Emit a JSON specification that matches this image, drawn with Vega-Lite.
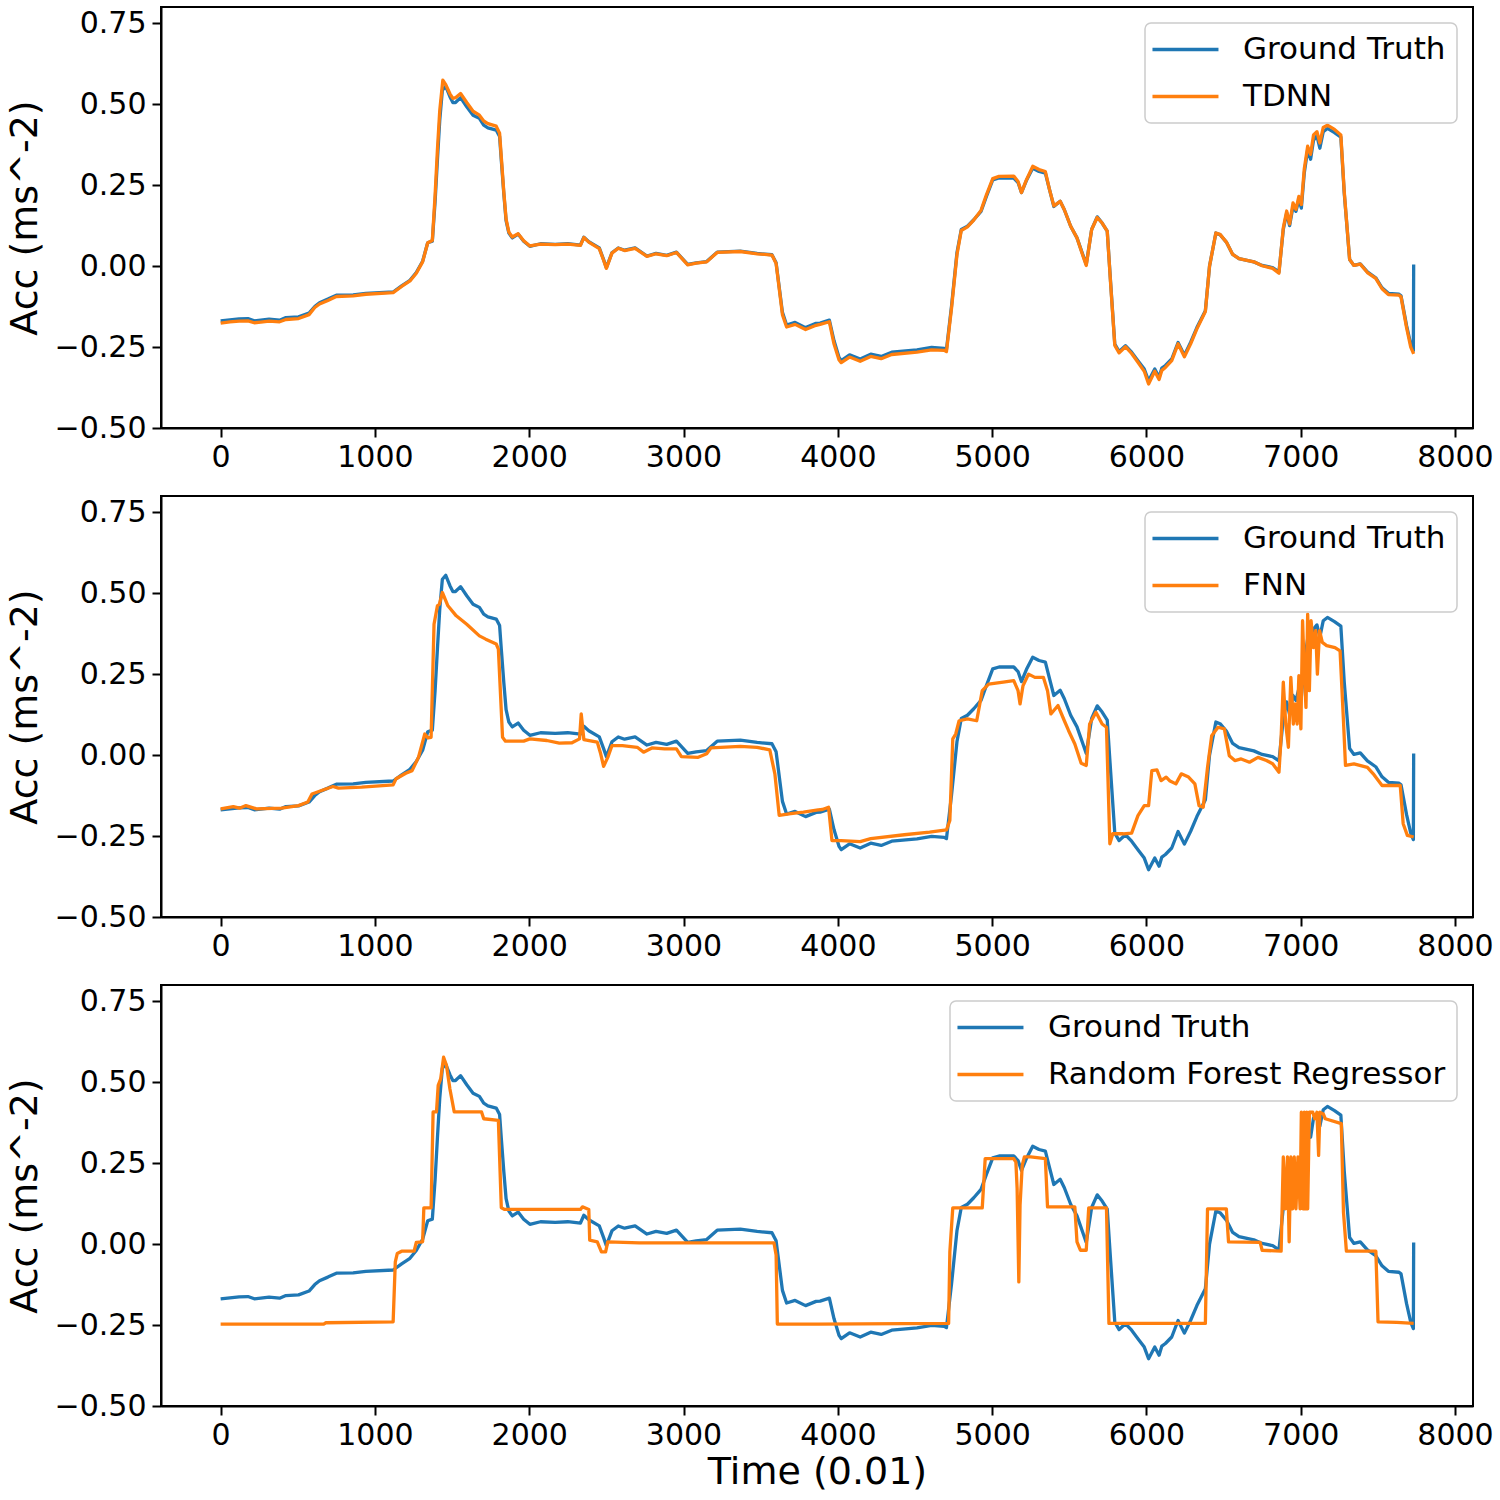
{
"$schema": "https://vega.github.io/schema/vega-lite/v6.json",
"padding": {"left": 5, "top": 6, "right": 5, "bottom": 5},
"background": "white",
"bounds": "flush",
"spacing": 68,
"config": {
  "font": "DejaVu Sans",
  "view": {"stroke": "black", "strokeWidth": 2},
  "line": {"strokeWidth": 3.3, "strokeJoin": "round"},
  "axis": {"grid": false, "domainColor": "black", "domainWidth": 2, "tickColor": "black", "tickWidth": 2, "tickSize": 9, "labelFont": "DejaVu Sans", "labelFontSize": 30, "labelColor": "black", "titleFont": "DejaVu Sans", "titleFontWeight": "normal", "titleColor": "black"},
  "legend": {"orient": "top-right", "offset": 16, "padding": 11, "fillColor": "rgba(255,255,255,0.85)", "strokeColor": "#cccccc", "strokeWidth": 1.5, "cornerRadius": 6, "symbolType": "M-1.73,0H4.27", "symbolSize": 484, "symbolStrokeWidth": 3.3, "labelFont": "DejaVu Sans", "labelFontSize": 31, "labelColor": "black", "labelOffset": 56, "rowPadding": 15, "labelLimit": 1000}
},
"resolve": {"scale": {"color": "independent"}, "legend": {"color": "independent"}},
"datasets": {
"gt": [{"t":0,"v":-0.169},{"t":60,"v":-0.166},{"t":120,"v":-0.163},{"t":177,"v":-0.162},{"t":218,"v":-0.169},{"t":260,"v":-0.167},{"t":314,"v":-0.164},{"t":382,"v":-0.167},{"t":423,"v":-0.159},{"t":505,"v":-0.157},{"t":573,"v":-0.145},{"t":610,"v":-0.125},{"t":641,"v":-0.113},{"t":695,"v":-0.102},{"t":750,"v":-0.09},{"t":859,"v":-0.089},{"t":941,"v":-0.084},{"t":1118,"v":-0.08},{"t":1173,"v":-0.061},{"t":1227,"v":-0.044},{"t":1268,"v":-0.02},{"t":1309,"v":0.015},{"t":1342,"v":0.072},{"t":1372,"v":0.077},{"t":1390,"v":0.2},{"t":1405,"v":0.328},{"t":1420,"v":0.45},{"t":1437,"v":0.543},{"t":1459,"v":0.555},{"t":1486,"v":0.523},{"t":1505,"v":0.505},{"t":1522,"v":0.505},{"t":1555,"v":0.52},{"t":1595,"v":0.492},{"t":1636,"v":0.466},{"t":1677,"v":0.456},{"t":1705,"v":0.435},{"t":1732,"v":0.427},{"t":1786,"v":0.42},{"t":1808,"v":0.4},{"t":1820,"v":0.32},{"t":1835,"v":0.225},{"t":1850,"v":0.14},{"t":1868,"v":0.102},{"t":1890,"v":0.087},{"t":1928,"v":0.099},{"t":1964,"v":0.077},{"t":2004,"v":0.061},{"t":2073,"v":0.069},{"t":2168,"v":0.067},{"t":2250,"v":0.069},{"t":2332,"v":0.065},{"t":2354,"v":0.089},{"t":2386,"v":0.075},{"t":2454,"v":0.056},{"t":2482,"v":0.02},{"t":2500,"v":-0.005},{"t":2536,"v":0.041},{"t":2577,"v":0.056},{"t":2618,"v":0.049},{"t":2686,"v":0.056},{"t":2763,"v":0.031},{"t":2822,"v":0.039},{"t":2891,"v":0.033},{"t":2954,"v":0.043},{"t":3027,"v":0.005},{"t":3082,"v":0.01},{"t":3150,"v":0.014},{"t":3218,"v":0.043},{"t":3368,"v":0.046},{"t":3477,"v":0.039},{"t":3573,"v":0.035},{"t":3600,"v":0.01},{"t":3641,"v":-0.143},{"t":3668,"v":-0.182},{"t":3723,"v":-0.174},{"t":3791,"v":-0.19},{"t":3859,"v":-0.177},{"t":3885,"v":-0.176},{"t":3945,"v":-0.167},{"t":3975,"v":-0.23},{"t":4008,"v":-0.282},{"t":4022,"v":-0.292},{"t":4076,"v":-0.274},{"t":4145,"v":-0.287},{"t":4213,"v":-0.272},{"t":4281,"v":-0.279},{"t":4349,"v":-0.266},{"t":4513,"v":-0.259},{"t":4608,"v":-0.251},{"t":4690,"v":-0.254},{"t":4704,"v":-0.258},{"t":4737,"v":-0.123},{"t":4772,"v":0.041},{"t":4800,"v":0.113},{"t":4840,"v":0.123},{"t":4881,"v":0.143},{"t":4928,"v":0.169},{"t":4963,"v":0.215},{"t":5004,"v":0.266},{"t":5045,"v":0.272},{"t":5140,"v":0.272},{"t":5168,"v":0.258},{"t":5190,"v":0.227},{"t":5222,"v":0.264},{"t":5263,"v":0.302},{"t":5304,"v":0.292},{"t":5345,"v":0.287},{"t":5372,"v":0.236},{"t":5400,"v":0.184},{"t":5441,"v":0.2},{"t":5468,"v":0.174},{"t":5509,"v":0.123},{"t":5550,"v":0.087},{"t":5591,"v":0.031},{"t":5610,"v":0.005},{"t":5645,"v":0.113},{"t":5681,"v":0.152},{"t":5713,"v":0.133},{"t":5746,"v":0.108},{"t":5768,"v":-0.051},{"t":5795,"v":-0.241},{"t":5823,"v":-0.264},{"t":5864,"v":-0.246},{"t":5904,"v":-0.266},{"t":5945,"v":-0.292},{"t":5986,"v":-0.318},{"t":6014,"v":-0.354},{"t":6054,"v":-0.318},{"t":6082,"v":-0.343},{"t":6100,"v":-0.315},{"t":6123,"v":-0.307},{"t":6164,"v":-0.287},{"t":6205,"v":-0.236},{"t":6246,"v":-0.275},{"t":6286,"v":-0.236},{"t":6327,"v":-0.19},{"t":6382,"v":-0.138},{"t":6409,"v":0.0},{"t":6450,"v":0.102},{"t":6477,"v":0.097},{"t":6518,"v":0.074},{"t":6559,"v":0.036},{"t":6600,"v":0.023},{"t":6696,"v":0.013},{"t":6750,"v":0.002},{"t":6818,"v":-0.005},{"t":6859,"v":-0.018},{"t":6887,"v":0.113},{"t":6909,"v":0.164},{"t":6928,"v":0.125},{"t":6950,"v":0.184},{"t":6969,"v":0.169},{"t":6988,"v":0.205},{"t":7004,"v":0.179},{"t":7023,"v":0.287},{"t":7045,"v":0.359},{"t":7064,"v":0.33},{"t":7083,"v":0.389},{"t":7105,"v":0.402},{"t":7124,"v":0.364},{"t":7146,"v":0.415},{"t":7173,"v":0.425},{"t":7219,"v":0.412},{"t":7260,"v":0.398},{"t":7282,"v":0.225},{"t":7317,"v":0.02},{"t":7345,"v":0.002},{"t":7386,"v":0.007},{"t":7432,"v":-0.018},{"t":7486,"v":-0.036},{"t":7527,"v":-0.067},{"t":7568,"v":-0.084},{"t":7637,"v":-0.087},{"t":7650,"v":-0.092},{"t":7686,"v":-0.184},{"t":7713,"v":-0.241},{"t":7730,"v":-0.261},{"t":7732,"v":0.005}],
"tdnn": [{"t":0,"v":-0.176},{"t":60,"v":-0.172},{"t":120,"v":-0.17},{"t":177,"v":-0.169},{"t":218,"v":-0.175},{"t":260,"v":-0.173},{"t":314,"v":-0.17},{"t":382,"v":-0.172},{"t":423,"v":-0.165},{"t":505,"v":-0.162},{"t":573,"v":-0.15},{"t":610,"v":-0.128},{"t":641,"v":-0.117},{"t":695,"v":-0.106},{"t":750,"v":-0.094},{"t":859,"v":-0.092},{"t":941,"v":-0.087},{"t":1118,"v":-0.082},{"t":1173,"v":-0.063},{"t":1227,"v":-0.046},{"t":1268,"v":-0.022},{"t":1309,"v":0.013},{"t":1342,"v":0.072},{"t":1372,"v":0.079},{"t":1390,"v":0.22},{"t":1405,"v":0.36},{"t":1420,"v":0.48},{"t":1440,"v":0.574},{"t":1459,"v":0.56},{"t":1486,"v":0.532},{"t":1505,"v":0.518},{"t":1522,"v":0.52},{"t":1555,"v":0.533},{"t":1595,"v":0.505},{"t":1636,"v":0.478},{"t":1677,"v":0.466},{"t":1705,"v":0.448},{"t":1732,"v":0.44},{"t":1786,"v":0.432},{"t":1808,"v":0.41},{"t":1820,"v":0.33},{"t":1835,"v":0.23},{"t":1850,"v":0.145},{"t":1868,"v":0.105},{"t":1890,"v":0.09},{"t":1928,"v":0.1},{"t":1964,"v":0.078},{"t":2004,"v":0.062},{"t":2073,"v":0.068},{"t":2168,"v":0.066},{"t":2250,"v":0.068},{"t":2332,"v":0.064},{"t":2354,"v":0.088},{"t":2386,"v":0.074},{"t":2454,"v":0.054},{"t":2482,"v":0.018},{"t":2500,"v":-0.007},{"t":2536,"v":0.04},{"t":2577,"v":0.055},{"t":2618,"v":0.048},{"t":2686,"v":0.055},{"t":2763,"v":0.03},{"t":2822,"v":0.038},{"t":2891,"v":0.032},{"t":2954,"v":0.042},{"t":3027,"v":0.004},{"t":3082,"v":0.009},{"t":3150,"v":0.013},{"t":3218,"v":0.042},{"t":3368,"v":0.045},{"t":3477,"v":0.038},{"t":3573,"v":0.034},{"t":3600,"v":0.008},{"t":3641,"v":-0.15},{"t":3668,"v":-0.188},{"t":3723,"v":-0.18},{"t":3791,"v":-0.196},{"t":3859,"v":-0.183},{"t":3885,"v":-0.18},{"t":3945,"v":-0.172},{"t":3975,"v":-0.24},{"t":4008,"v":-0.29},{"t":4022,"v":-0.298},{"t":4076,"v":-0.281},{"t":4145,"v":-0.294},{"t":4213,"v":-0.279},{"t":4281,"v":-0.286},{"t":4349,"v":-0.273},{"t":4513,"v":-0.266},{"t":4608,"v":-0.259},{"t":4690,"v":-0.26},{"t":4704,"v":-0.264},{"t":4737,"v":-0.13},{"t":4772,"v":0.035},{"t":4800,"v":0.11},{"t":4840,"v":0.121},{"t":4881,"v":0.142},{"t":4928,"v":0.172},{"t":4963,"v":0.22},{"t":5004,"v":0.27},{"t":5045,"v":0.277},{"t":5140,"v":0.278},{"t":5168,"v":0.261},{"t":5190,"v":0.227},{"t":5222,"v":0.266},{"t":5263,"v":0.308},{"t":5304,"v":0.298},{"t":5345,"v":0.292},{"t":5372,"v":0.236},{"t":5400,"v":0.186},{"t":5441,"v":0.2},{"t":5468,"v":0.174},{"t":5509,"v":0.123},{"t":5550,"v":0.087},{"t":5591,"v":0.028},{"t":5610,"v":0.002},{"t":5645,"v":0.113},{"t":5681,"v":0.15},{"t":5713,"v":0.133},{"t":5746,"v":0.108},{"t":5768,"v":-0.055},{"t":5795,"v":-0.245},{"t":5823,"v":-0.268},{"t":5864,"v":-0.249},{"t":5904,"v":-0.27},{"t":5945,"v":-0.297},{"t":5986,"v":-0.325},{"t":6014,"v":-0.364},{"t":6054,"v":-0.325},{"t":6082,"v":-0.35},{"t":6100,"v":-0.322},{"t":6123,"v":-0.313},{"t":6164,"v":-0.292},{"t":6205,"v":-0.24},{"t":6246,"v":-0.28},{"t":6286,"v":-0.241},{"t":6327,"v":-0.194},{"t":6382,"v":-0.14},{"t":6409,"v":0.0},{"t":6450,"v":0.102},{"t":6477,"v":0.098},{"t":6518,"v":0.074},{"t":6559,"v":0.036},{"t":6600,"v":0.023},{"t":6696,"v":0.013},{"t":6750,"v":0.001},{"t":6818,"v":-0.007},{"t":6859,"v":-0.022},{"t":6887,"v":0.118},{"t":6909,"v":0.17},{"t":6928,"v":0.13},{"t":6950,"v":0.195},{"t":6969,"v":0.175},{"t":6988,"v":0.215},{"t":7004,"v":0.19},{"t":7023,"v":0.3},{"t":7045,"v":0.37},{"t":7064,"v":0.345},{"t":7083,"v":0.405},{"t":7105,"v":0.415},{"t":7124,"v":0.38},{"t":7146,"v":0.428},{"t":7173,"v":0.435},{"t":7219,"v":0.422},{"t":7260,"v":0.405},{"t":7282,"v":0.23},{"t":7317,"v":0.02},{"t":7345,"v":0.002},{"t":7386,"v":0.006},{"t":7432,"v":-0.02},{"t":7486,"v":-0.038},{"t":7527,"v":-0.07},{"t":7568,"v":-0.088},{"t":7637,"v":-0.09},{"t":7650,"v":-0.095},{"t":7686,"v":-0.19},{"t":7713,"v":-0.25},{"t":7732,"v":-0.271}],
"fnn": [{"t":0,"v":-0.166},{"t":82,"v":-0.159},{"t":123,"v":-0.164},{"t":164,"v":-0.156},{"t":232,"v":-0.166},{"t":395,"v":-0.164},{"t":505,"v":-0.156},{"t":565,"v":-0.145},{"t":592,"v":-0.12},{"t":668,"v":-0.107},{"t":728,"v":-0.097},{"t":764,"v":-0.102},{"t":914,"v":-0.099},{"t":1118,"v":-0.092},{"t":1137,"v":-0.073},{"t":1200,"v":-0.056},{"t":1241,"v":-0.048},{"t":1282,"v":-0.007},{"t":1323,"v":0.065},{"t":1344,"v":0.053},{"t":1364,"v":0.055},{"t":1383,"v":0.404},{"t":1405,"v":0.461},{"t":1418,"v":0.466},{"t":1437,"v":0.502},{"t":1473,"v":0.461},{"t":1527,"v":0.43},{"t":1595,"v":0.404},{"t":1677,"v":0.368},{"t":1718,"v":0.358},{"t":1786,"v":0.343},{"t":1800,"v":0.327},{"t":1827,"v":0.055},{"t":1846,"v":0.043},{"t":1964,"v":0.043},{"t":2004,"v":0.05},{"t":2114,"v":0.045},{"t":2195,"v":0.037},{"t":2277,"v":0.038},{"t":2326,"v":0.05},{"t":2337,"v":0.127},{"t":2354,"v":0.048},{"t":2441,"v":0.04},{"t":2463,"v":0.004},{"t":2482,"v":-0.035},{"t":2509,"v":-0.007},{"t":2536,"v":0.029},{"t":2604,"v":0.029},{"t":2700,"v":0.024},{"t":2741,"v":0.009},{"t":2795,"v":0.022},{"t":2877,"v":0.019},{"t":2954,"v":0.019},{"t":2986,"v":-0.005},{"t":3095,"v":-0.007},{"t":3150,"v":0.004},{"t":3177,"v":0.022},{"t":3368,"v":0.027},{"t":3477,"v":0.024},{"t":3559,"v":0.016},{"t":3592,"v":-0.058},{"t":3620,"v":-0.186},{"t":3695,"v":-0.181},{"t":3777,"v":-0.176},{"t":3873,"v":-0.169},{"t":3900,"v":-0.168},{"t":3940,"v":-0.161},{"t":3962,"v":-0.264},{"t":4022,"v":-0.264},{"t":4145,"v":-0.267},{"t":4213,"v":-0.258},{"t":4431,"v":-0.246},{"t":4595,"v":-0.238},{"t":4704,"v":-0.231},{"t":4726,"v":-0.202},{"t":4745,"v":0.05},{"t":4764,"v":0.065},{"t":4786,"v":0.106},{"t":4840,"v":0.112},{"t":4900,"v":0.106},{"t":4936,"v":0.199},{"t":4977,"v":0.219},{"t":5072,"v":0.225},{"t":5140,"v":0.23},{"t":5168,"v":0.199},{"t":5181,"v":0.158},{"t":5200,"v":0.214},{"t":5236,"v":0.25},{"t":5277,"v":0.24},{"t":5332,"v":0.24},{"t":5359,"v":0.199},{"t":5381,"v":0.127},{"t":5427,"v":0.153},{"t":5468,"v":0.106},{"t":5495,"v":0.076},{"t":5536,"v":0.034},{"t":5577,"v":-0.025},{"t":5610,"v":-0.032},{"t":5632,"v":0.096},{"t":5673,"v":0.132},{"t":5713,"v":0.096},{"t":5741,"v":0.086},{"t":5763,"v":-0.274},{"t":5782,"v":-0.243},{"t":5850,"v":-0.243},{"t":5904,"v":-0.241},{"t":5945,"v":-0.187},{"t":5986,"v":-0.156},{"t":6014,"v":-0.156},{"t":6035,"v":-0.048},{"t":6068,"v":-0.046},{"t":6095,"v":-0.079},{"t":6128,"v":-0.068},{"t":6150,"v":-0.079},{"t":6191,"v":-0.089},{"t":6226,"v":-0.058},{"t":6273,"v":-0.068},{"t":6314,"v":-0.089},{"t":6341,"v":-0.156},{"t":6368,"v":-0.161},{"t":6396,"v":-0.038},{"t":6423,"v":0.06},{"t":6464,"v":0.086},{"t":6505,"v":0.081},{"t":6537,"v":-0.002},{"t":6573,"v":-0.017},{"t":6614,"v":-0.012},{"t":6668,"v":-0.022},{"t":6723,"v":-0.007},{"t":6778,"v":-0.017},{"t":6818,"v":-0.027},{"t":6859,"v":-0.053},{"t":6873,"v":0.055},{"t":6887,"v":0.225},{"t":6903,"v":0.096},{"t":6920,"v":0.024},{"t":6936,"v":0.24},{"t":6952,"v":0.096},{"t":6963,"v":0.158},{"t":6977,"v":0.096},{"t":6988,"v":0.245},{"t":7001,"v":0.081},{"t":7012,"v":0.415},{"t":7023,"v":0.26},{"t":7034,"v":0.147},{"t":7045,"v":0.435},{"t":7056,"v":0.199},{"t":7067,"v":0.415},{"t":7083,"v":0.332},{"t":7097,"v":0.384},{"t":7108,"v":0.25},{"t":7122,"v":0.384},{"t":7140,"v":0.348},{"t":7168,"v":0.338},{"t":7222,"v":0.332},{"t":7255,"v":0.322},{"t":7277,"v":0.106},{"t":7290,"v":-0.032},{"t":7345,"v":-0.027},{"t":7432,"v":-0.038},{"t":7470,"v":-0.058},{"t":7527,"v":-0.094},{"t":7645,"v":-0.094},{"t":7664,"v":-0.212},{"t":7691,"v":-0.248},{"t":7732,"v":-0.253}],
"rf": [{"t":0,"v":-0.247},{"t":668,"v":-0.247},{"t":682,"v":-0.243},{"t":1118,"v":-0.24},{"t":1132,"v":-0.055},{"t":1145,"v":-0.029},{"t":1173,"v":-0.022},{"t":1254,"v":-0.022},{"t":1268,"v":0.005},{"t":1309,"v":0.007},{"t":1317,"v":0.112},{"t":1364,"v":0.112},{"t":1377,"v":0.408},{"t":1399,"v":0.408},{"t":1410,"v":0.49},{"t":1426,"v":0.51},{"t":1445,"v":0.577},{"t":1464,"v":0.551},{"t":1486,"v":0.479},{"t":1514,"v":0.408},{"t":1691,"v":0.408},{"t":1705,"v":0.387},{"t":1800,"v":0.382},{"t":1819,"v":0.112},{"t":1841,"v":0.107},{"t":2332,"v":0.107},{"t":2345,"v":0.115},{"t":2386,"v":0.107},{"t":2392,"v":0.012},{"t":2441,"v":0.007},{"t":2468,"v":-0.024},{"t":2495,"v":-0.024},{"t":2509,"v":0.007},{"t":2713,"v":0.004},{"t":3586,"v":0.004},{"t":3600,"v":-0.034},{"t":3608,"v":-0.247},{"t":3873,"v":-0.247},{"t":4718,"v":-0.245},{"t":4726,"v":-0.024},{"t":4745,"v":0.112},{"t":4936,"v":0.112},{"t":4955,"v":0.264},{"t":5140,"v":0.264},{"t":5154,"v":0.253},{"t":5162,"v":0.171},{"t":5173,"v":-0.117},{"t":5181,"v":0.12},{"t":5195,"v":0.243},{"t":5209,"v":0.269},{"t":5250,"v":0.269},{"t":5345,"v":0.264},{"t":5359,"v":0.115},{"t":5536,"v":0.115},{"t":5550,"v":0.007},{"t":5572,"v":-0.019},{"t":5610,"v":-0.019},{"t":5626,"v":0.112},{"t":5741,"v":0.112},{"t":5757,"v":-0.245},{"t":6382,"v":-0.245},{"t":6396,"v":0.109},{"t":6518,"v":0.109},{"t":6532,"v":0.007},{"t":6737,"v":0.005},{"t":6750,"v":-0.019},{"t":6873,"v":-0.022},{"t":6887,"v":0.269},{"t":6900,"v":0.109},{"t":6914,"v":0.269},{"t":6925,"v":0.007},{"t":6936,"v":0.269},{"t":6947,"v":0.109},{"t":6958,"v":0.269},{"t":6969,"v":0.109},{"t":6982,"v":0.269},{"t":6996,"v":0.109},{"t":7004,"v":0.407},{"t":7015,"v":0.109},{"t":7023,"v":0.407},{"t":7031,"v":0.109},{"t":7039,"v":0.407},{"t":7045,"v":0.109},{"t":7056,"v":0.407},{"t":7078,"v":0.407},{"t":7091,"v":0.387},{"t":7105,"v":0.407},{"t":7116,"v":0.274},{"t":7124,"v":0.407},{"t":7146,"v":0.402},{"t":7159,"v":0.387},{"t":7263,"v":0.372},{"t":7277,"v":0.099},{"t":7296,"v":-0.022},{"t":7487,"v":-0.022},{"t":7501,"v":-0.24},{"t":7623,"v":-0.242},{"t":7732,"v":-0.245}]
},
"vconcat": [
{
  "width": 1312, "height": 421,
  "layer": [
    {"data": {"name": "gt"}, "mark": {"type": "line"},
     "encoding": {
       "x": {"field": "t", "type": "quantitative", "scale": {"domain": [-386.5, 8116.5], "nice": false, "zero": false}, "axis": {"values": [0,1000,2000,3000,4000,5000,6000,7000,8000], "format": "d", "title": null, "labelPadding": 5}},
       "y": {"field": "v", "type": "quantitative", "scale": {"domain": [-0.5, 0.8], "nice": false, "zero": false}, "axis": {"values": [-0.5,-0.25,0,0.25,0.5,0.75], "format": ".2f", "title": "Acc (ms^-2)", "titleFontSize": 38, "labelPadding": 6, "titlePadding": 10}},
       "color": {"datum": "Ground Truth", "type": "nominal", "scale": {"domain": ["Ground Truth", "TDNN"], "range": ["#1f77b4", "#ff7f0e"]}, "legend": {"title": null}}
     }},
    {"data": {"name": "tdnn"}, "mark": {"type": "line"},
     "encoding": {
       "x": {"field": "t", "type": "quantitative"},
       "y": {"field": "v", "type": "quantitative"},
       "color": {"datum": "TDNN", "type": "nominal"}
     }}
  ]
},
{
  "width": 1312, "height": 421,
  "layer": [
    {"data": {"name": "gt"}, "mark": {"type": "line"},
     "encoding": {
       "x": {"field": "t", "type": "quantitative", "scale": {"domain": [-386.5, 8116.5], "nice": false, "zero": false}, "axis": {"values": [0,1000,2000,3000,4000,5000,6000,7000,8000], "format": "d", "title": null, "labelPadding": 5}},
       "y": {"field": "v", "type": "quantitative", "scale": {"domain": [-0.5, 0.8], "nice": false, "zero": false}, "axis": {"values": [-0.5,-0.25,0,0.25,0.5,0.75], "format": ".2f", "title": "Acc (ms^-2)", "titleFontSize": 38, "labelPadding": 6, "titlePadding": 10}},
       "color": {"datum": "Ground Truth", "type": "nominal", "scale": {"domain": ["Ground Truth", "FNN"], "range": ["#1f77b4", "#ff7f0e"]}, "legend": {"title": null}}
     }},
    {"data": {"name": "fnn"}, "mark": {"type": "line"},
     "encoding": {
       "x": {"field": "t", "type": "quantitative"},
       "y": {"field": "v", "type": "quantitative"},
       "color": {"datum": "FNN", "type": "nominal"}
     }}
  ]
},
{
  "width": 1312, "height": 421,
  "layer": [
    {"data": {"name": "gt"}, "mark": {"type": "line"},
     "encoding": {
       "x": {"field": "t", "type": "quantitative", "scale": {"domain": [-386.5, 8116.5], "nice": false, "zero": false}, "axis": {"values": [0,1000,2000,3000,4000,5000,6000,7000,8000], "format": "d", "title": "Time (0.01)", "titleFontSize": 38, "labelPadding": 5, "titlePadding": 3}},
       "y": {"field": "v", "type": "quantitative", "scale": {"domain": [-0.5, 0.8], "nice": false, "zero": false}, "axis": {"values": [-0.5,-0.25,0,0.25,0.5,0.75], "format": ".2f", "title": "Acc (ms^-2)", "titleFontSize": 38, "labelPadding": 6, "titlePadding": 10}},
       "color": {"datum": "Ground Truth", "type": "nominal", "scale": {"domain": ["Ground Truth", "Random Forest Regressor"], "range": ["#1f77b4", "#ff7f0e"]}, "legend": {"title": null}}
     }},
    {"data": {"name": "rf"}, "mark": {"type": "line"},
     "encoding": {
       "x": {"field": "t", "type": "quantitative"},
       "y": {"field": "v", "type": "quantitative"},
       "color": {"datum": "Random Forest Regressor", "type": "nominal"}
     }}
  ]
}
]
}
